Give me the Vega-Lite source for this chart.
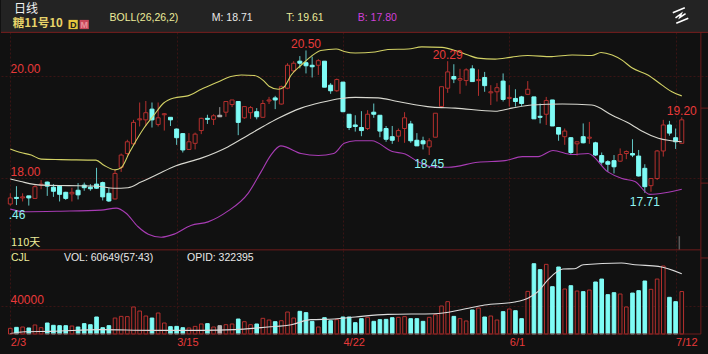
{"$schema":"https://vega.github.io/schema/vega-lite/v6.json","padding":{"left":0,"top":0,"right":0,"bottom":7},"background":"#111111","spacing":0,"bounds":"flush",
"config":{"view":{"stroke":null},"text":{"font":"Liberation Sans"},"axis":{"labelFont":"Liberation Sans"},"concat":{"spacing":0}},
"datasets":{
"candles":[
{"d":0,"s":"u","o":17.49,"h":17.70,"l":17.46,"c":17.61,"v":8100},{"d":1,"s":"d","o":17.62,"h":17.84,"l":17.47,"c":17.60,"v":9500},{"d":2,"s":"u","o":17.61,"h":17.70,"l":17.54,"c":17.63,"v":10000},{"d":3,"s":"d","o":17.65,"h":17.65,"l":17.46,"c":17.61,"v":8600},{"d":4,"s":"u","o":17.60,"h":17.86,"l":17.60,"c":17.83,"v":12900},{"d":5,"s":"u","o":17.86,"h":17.96,"l":17.78,"c":17.88,"v":9000},{"d":6,"s":"d","o":17.92,"h":17.93,"l":17.65,"c":17.84,"v":15700},{"d":7,"s":"d","o":17.82,"h":17.88,"l":17.63,"c":17.74,"v":12400},{"d":8,"s":"d","o":17.84,"h":17.86,"l":17.54,"c":17.68,"v":11900},{"d":9,"s":"d","o":17.72,"h":17.73,"l":17.57,"c":17.60,"v":11900},
{"d":10,"s":"u","o":17.69,"h":17.81,"l":17.54,"c":17.72,"v":11400},{"d":11,"s":"d","o":17.76,"h":17.90,"l":17.58,"c":17.67,"v":10000},{"d":12,"s":"d","o":17.86,"h":17.91,"l":17.75,"c":17.81,"v":14800},{"d":13,"s":"d","o":17.82,"h":17.88,"l":17.75,"c":17.79,"v":13300},{"d":14,"s":"d","o":17.88,"h":18.20,"l":17.79,"c":17.80,"v":24300},{"d":15,"s":"d","o":17.91,"h":17.93,"l":17.56,"c":17.63,"v":9000},{"d":16,"s":"d","o":17.70,"h":17.81,"l":17.53,"c":17.55,"v":11900},{"d":17,"s":"u","o":17.59,"h":18.16,"l":17.58,"c":18.09,"v":22800},{"d":18,"s":"u","o":18.21,"h":18.48,"l":18.12,"c":18.45,"v":25200},{"d":19,"s":"u","o":18.48,"h":18.75,"l":18.42,"c":18.71,"v":24800},
{"d":20,"s":"u","o":18.67,"h":19.14,"l":18.65,"c":19.09,"v":38600},{"d":21,"s":"u","o":19.14,"h":19.48,"l":19.01,"c":19.16,"v":32800},{"d":22,"s":"u","o":19.14,"h":19.51,"l":19.02,"c":19.28,"v":25700},{"d":23,"s":"d","o":19.35,"h":19.48,"l":18.99,"c":19.14,"v":22800},{"d":24,"s":"u","o":19.05,"h":19.48,"l":19.01,"c":19.18,"v":30000},{"d":25,"s":"u","o":19.24,"h":19.27,"l":18.93,"c":19.26,"v":15700},{"d":26,"s":"d","o":19.19,"h":19.19,"l":19.02,"c":19.14,"v":10500},{"d":27,"s":"d","o":18.96,"h":18.97,"l":18.65,"c":18.79,"v":10900},{"d":28,"s":"d","o":18.87,"h":18.88,"l":18.50,"c":18.55,"v":9000},{"d":29,"s":"u","o":18.56,"h":18.88,"l":18.55,"c":18.71,"v":8600},
{"d":30,"s":"u","o":18.68,"h":18.89,"l":18.56,"c":18.86,"v":10900},{"d":31,"s":"u","o":18.93,"h":19.18,"l":18.86,"c":19.17,"v":14300},{"d":32,"s":"d","o":19.17,"h":19.24,"l":19.06,"c":19.15,"v":14800},{"d":33,"s":"u","o":19.15,"h":19.25,"l":19.04,"c":19.22,"v":10000},{"d":34,"s":"f","o":19.23,"h":19.39,"l":19.20,"c":19.20,"v":11900},{"d":35,"s":"u","o":19.29,"h":19.51,"l":19.20,"c":19.50,"v":13300},{"d":36,"s":"u","o":19.44,"h":19.53,"l":19.39,"c":19.53,"v":14300},{"d":37,"s":"d","o":19.50,"h":19.50,"l":18.84,"c":19.09,"v":21400},{"d":38,"s":"u","o":19.18,"h":19.41,"l":19.16,"c":19.40,"v":17600},{"d":39,"s":"u","o":19.28,"h":19.41,"l":19.16,"c":19.38,"v":13300},
{"d":40,"s":"d","o":19.30,"h":19.37,"l":19.15,"c":19.20,"v":14300},{"d":41,"s":"u","o":19.19,"h":19.53,"l":19.19,"c":19.46,"v":22400},{"d":42,"s":"u","o":19.51,"h":19.59,"l":19.45,"c":19.53,"v":20000},{"d":43,"s":"d","o":19.57,"h":19.61,"l":19.35,"c":19.53,"v":17600},{"d":44,"s":"u","o":19.45,"h":19.81,"l":19.44,"c":19.79,"v":19000},{"d":45,"s":"u","o":19.76,"h":20.25,"l":19.74,"c":20.21,"v":31400},{"d":46,"s":"u","o":20.10,"h":20.29,"l":20.06,"c":20.25,"v":22800},{"d":47,"s":"d","o":20.29,"h":20.39,"l":20.15,"c":20.25,"v":32400},{"d":48,"s":"d","o":20.26,"h":20.50,"l":20.05,"c":20.20,"v":30500},{"d":49,"s":"d","o":20.21,"h":20.38,"l":19.97,"c":20.18,"v":18100},
{"d":50,"s":"u","o":20.21,"h":20.33,"l":20.02,"c":20.30,"v":10000},{"d":51,"s":"d","o":20.29,"h":20.29,"l":19.78,"c":19.78,"v":23300},{"d":52,"s":"d","o":19.82,"h":19.86,"l":19.65,"c":19.71,"v":19000},{"d":53,"s":"u","o":19.71,"h":19.95,"l":19.69,"c":19.93,"v":20500},{"d":54,"s":"d","o":19.88,"h":19.88,"l":19.29,"c":19.30,"v":24300},{"d":55,"s":"d","o":19.25,"h":19.25,"l":18.94,"c":18.99,"v":24300},{"d":56,"s":"d","o":19.04,"h":19.23,"l":18.91,"c":19.01,"v":16200},{"d":57,"s":"d","o":18.99,"h":19.31,"l":18.82,"c":18.93,"v":21900},{"d":58,"s":"u","o":18.97,"h":19.33,"l":18.94,"c":19.25,"v":23800},{"d":59,"s":"d","o":19.29,"h":19.46,"l":19.18,"c":19.25,"v":18100},
{"d":60,"s":"d","o":19.23,"h":19.23,"l":18.80,"c":18.92,"v":20500},{"d":61,"s":"d","o":18.97,"h":19.02,"l":18.71,"c":18.76,"v":20900},{"d":62,"s":"d","o":18.81,"h":19.02,"l":18.67,"c":18.74,"v":23300},{"d":63,"s":"u","o":18.82,"h":18.97,"l":18.71,"c":18.93,"v":23800},{"d":64,"s":"u","o":18.97,"h":19.29,"l":18.69,"c":19.18,"v":24800},{"d":65,"s":"d","o":19.06,"h":19.12,"l":18.69,"c":18.73,"v":21900},{"d":66,"s":"d","o":18.74,"h":18.88,"l":18.63,"c":18.63,"v":21900},{"d":67,"s":"d","o":18.73,"h":18.81,"l":18.56,"c":18.67,"v":18100},{"d":68,"s":"u","o":18.61,"h":18.78,"l":18.45,"c":18.73,"v":23800},{"d":69,"s":"u","o":18.80,"h":19.27,"l":18.80,"c":19.27,"v":27600},
{"d":70,"s":"u","o":19.40,"h":19.79,"l":19.39,"c":19.79,"v":40000},{"d":71,"s":"u","o":19.76,"h":20.29,"l":19.67,"c":20.08,"v":46200},{"d":72,"s":"d","o":19.99,"h":20.23,"l":19.86,"c":19.94,"v":25200},{"d":73,"s":"u","o":19.92,"h":20.14,"l":19.65,"c":19.95,"v":21900},{"d":74,"s":"u","o":19.91,"h":20.15,"l":19.81,"c":20.12,"v":18600},{"d":75,"s":"d","o":20.14,"h":20.21,"l":19.89,"c":19.89,"v":34300},{"d":76,"s":"u","o":19.91,"h":20.13,"l":19.61,"c":19.93,"v":37100},{"d":77,"s":"d","o":19.97,"h":20.08,"l":19.69,"c":19.81,"v":24300},{"d":78,"s":"u","o":19.67,"h":19.82,"l":19.43,"c":19.69,"v":25700},{"d":79,"s":"u","o":19.69,"h":19.86,"l":19.50,"c":19.77,"v":20000},
{"d":80,"s":"d","o":19.90,"h":20.05,"l":19.50,"c":19.54,"v":31900},{"d":81,"s":"u","o":19.56,"h":19.82,"l":19.40,"c":19.58,"v":35700},{"d":82,"s":"d","o":19.56,"h":19.74,"l":19.40,"c":19.50,"v":33300},{"d":83,"s":"d","o":19.59,"h":19.61,"l":19.41,"c":19.46,"v":21900},{"d":84,"s":"u","o":19.64,"h":19.90,"l":19.63,"c":19.74,"v":60900},{"d":85,"s":"d","o":19.59,"h":19.59,"l":19.16,"c":19.16,"v":100400},{"d":86,"s":"d","o":19.21,"h":19.46,"l":19.07,"c":19.19,"v":91900},{"d":87,"s":"u","o":19.25,"h":19.59,"l":19.04,"c":19.52,"v":99500},{"d":88,"s":"d","o":19.53,"h":19.53,"l":19.02,"c":19.02,"v":67600},{"d":89,"s":"d","o":18.99,"h":19.00,"l":18.73,"c":18.86,"v":95700},
{"d":90,"s":"u","o":18.81,"h":18.97,"l":18.65,"c":18.92,"v":64300},{"d":91,"s":"d","o":18.79,"h":18.80,"l":18.45,"c":18.50,"v":69000},{"d":92,"s":"u","o":18.67,"h":18.71,"l":18.44,"c":18.71,"v":61400},{"d":93,"s":"d","o":18.81,"h":19.07,"l":18.68,"c":18.69,"v":60500},{"d":94,"s":"u","o":18.78,"h":19.10,"l":18.67,"c":18.80,"v":62800},{"d":95,"s":"d","o":18.69,"h":18.71,"l":18.43,"c":18.45,"v":74300},{"d":96,"s":"d","o":18.44,"h":18.50,"l":18.26,"c":18.31,"v":78500},{"d":97,"s":"d","o":18.32,"h":18.35,"l":18.12,"c":18.27,"v":56200},{"d":98,"s":"d","o":18.34,"h":18.45,"l":18.09,"c":18.22,"v":59000},{"d":99,"s":"u","o":18.33,"h":18.58,"l":18.32,"c":18.46,"v":57100},
{"d":100,"s":"u","o":18.48,"h":18.54,"l":18.37,"c":18.52,"v":38600},{"d":101,"s":"d","o":18.48,"h":18.76,"l":18.41,"c":18.45,"v":58500},{"d":102,"s":"d","o":18.43,"h":18.55,"l":18.03,"c":18.04,"v":61900},{"d":103,"s":"d","o":18.19,"h":18.27,"l":17.71,"c":17.83,"v":75700},{"d":104,"s":"u","o":17.85,"h":17.99,"l":17.73,"c":17.99,"v":63800},{"d":105,"s":"u","o":17.99,"h":18.55,"l":17.96,"c":18.53,"v":78500},{"d":106,"s":"u","o":18.53,"h":19.14,"l":18.42,"c":19.04,"v":97100},{"d":107,"s":"d","o":19.04,"h":19.12,"l":18.83,"c":18.88,"v":52400},{"d":108,"s":"d","o":18.79,"h":18.97,"l":18.57,"c":18.71,"v":46200},{"d":109,"s":"u","o":18.68,"h":19.19,"l":18.68,"c":19.14,"v":60649}
],
"bands":[
{"b":"T","d":0,"p":18.57},{"b":"T","d":1.7,"p":18.50},{"b":"T","d":3.4,"p":18.45},{"b":"T","d":5,"p":18.37},{"b":"T","d":8.2,"p":18.36},{"b":"T","d":13.9,"p":18.35},{"b":"T","d":15.2,"p":18.25},{"b":"T","d":17,"p":18.16},{"b":"T","d":18,"p":18.20},{"b":"T","d":19.3,"p":18.49},{"b":"T","d":20.7,"p":18.79},{"b":"T","d":21.7,"p":18.98},{"b":"T","d":23.3,"p":19.23},{"b":"T","d":24.9,"p":19.47},{"b":"T","d":26.6,"p":19.57},{"b":"T","d":28.8,"p":19.61},{"b":"T","d":31,"p":19.74},{"b":"T","d":33.7,"p":19.88},{"b":"T","d":35.8,"p":19.99},{"b":"T","d":37.5,"p":20.02},{"b":"T","d":39.6,"p":20.01},{"b":"T","d":41,"p":19.92},{"b":"T","d":42,"p":19.80},{"b":"T","d":43.5,"p":19.74},{"b":"T","d":44.4,"p":19.78},{"b":"T","d":45.6,"p":20.02},{"b":"T","d":47.2,"p":20.21},{"b":"T","d":48.8,"p":20.38},{"b":"T","d":50.4,"p":20.50},{"b":"T","d":52.9,"p":20.53},{"b":"T","d":54.2,"p":20.48},{"b":"T","d":56,"p":20.45},{"b":"T","d":59.2,"p":20.47},{"b":"T","d":61.3,"p":20.52},{"b":"T","d":64.6,"p":20.53},{"b":"T","d":66.8,"p":20.57},{"b":"T","d":70.1,"p":20.56},{"b":"T","d":72.2,"p":20.50},{"b":"T","d":74.3,"p":20.41},{"b":"T","d":75.9,"p":20.35},{"b":"T","d":78.7,"p":20.33},{"b":"T","d":81.4,"p":20.37},{"b":"T","d":84,"p":20.40},{"b":"T","d":87.9,"p":20.38},{"b":"T","d":91.2,"p":20.41},{"b":"T","d":94.4,"p":20.40},{"b":"T","d":95.9,"p":20.46},{"b":"T","d":97.7,"p":20.41},{"b":"T","d":99.3,"p":20.31},{"b":"T","d":100.9,"p":20.16},{"b":"T","d":103.5,"p":20.02},{"b":"T","d":105.8,"p":19.82},{"b":"T","d":107.4,"p":19.69},{"b":"T","d":109,"p":19.61},
{"b":"M","d":0,"p":17.98},{"b":"M","d":1.7,"p":17.93},{"b":"M","d":5,"p":17.86},{"b":"M","d":9.4,"p":17.85},{"b":"M","d":14.2,"p":17.84},{"b":"M","d":16.8,"p":17.80},{"b":"M","d":19.1,"p":17.81},{"b":"M","d":21.2,"p":17.92},{"b":"M","d":24,"p":18.08},{"b":"M","d":26.9,"p":18.24},{"b":"M","d":31,"p":18.39},{"b":"M","d":35.3,"p":18.61},{"b":"M","d":38.6,"p":18.84},{"b":"M","d":41.2,"p":19.02},{"b":"M","d":43.5,"p":19.17},{"b":"M","d":47.2,"p":19.37},{"b":"M","d":50.4,"p":19.48},{"b":"M","d":53.7,"p":19.56},{"b":"M","d":56,"p":19.58},{"b":"M","d":59.7,"p":19.57},{"b":"M","d":62.9,"p":19.50},{"b":"M","d":68.5,"p":19.39},{"b":"M","d":72.2,"p":19.37},{"b":"M","d":78.7,"p":19.31},{"b":"M","d":81.4,"p":19.37},{"b":"M","d":84.7,"p":19.43},{"b":"M","d":89.6,"p":19.45},{"b":"M","d":94.4,"p":19.43},{"b":"M","d":97.7,"p":19.23},{"b":"M","d":100.9,"p":19.04},{"b":"M","d":102.5,"p":18.92},{"b":"M","d":105.2,"p":18.78},{"b":"M","d":109,"p":18.71},
{"b":"B","d":0,"p":17.39},{"b":"B","d":2.2,"p":17.34},{"b":"B","d":8.2,"p":17.35},{"b":"B","d":14.7,"p":17.37},{"b":"B","d":17.2,"p":17.41},{"b":"B","d":18.8,"p":17.31},{"b":"B","d":20.7,"p":17.05},{"b":"B","d":22.4,"p":16.90},{"b":"B","d":24.5,"p":16.84},{"b":"B","d":26.6,"p":16.90},{"b":"B","d":29.3,"p":17.07},{"b":"B","d":32.1,"p":17.14},{"b":"B","d":35.3,"p":17.35},{"b":"B","d":38.6,"p":17.70},{"b":"B","d":40.7,"p":18.12},{"b":"B","d":42.3,"p":18.45},{"b":"B","d":43.9,"p":18.63},{"b":"B","d":47.2,"p":18.48},{"b":"B","d":50,"p":18.44},{"b":"B","d":52.5,"p":18.48},{"b":"B","d":54.2,"p":18.68},{"b":"B","d":56,"p":18.73},{"b":"B","d":58.7,"p":18.73},{"b":"B","d":62,"p":18.52},{"b":"B","d":64.1,"p":18.47},{"b":"B","d":66.2,"p":18.32},{"b":"B","d":68.5,"p":18.22},{"b":"B","d":71.1,"p":18.21},{"b":"B","d":75.9,"p":18.31},{"b":"B","d":80.3,"p":18.34},{"b":"B","d":83.1,"p":18.42},{"b":"B","d":85.7,"p":18.42},{"b":"B","d":88.1,"p":18.54},{"b":"B","d":91.2,"p":18.46},{"b":"B","d":93.8,"p":18.48},{"b":"B","d":97,"p":18.12},{"b":"B","d":99.3,"p":17.99},{"b":"B","d":101.4,"p":17.93},{"b":"B","d":103.8,"p":17.68},{"b":"B","d":106.3,"p":17.71},{"b":"B","d":109,"p":17.78}
],
"volma":[{"d":0,"v":500},{"d":2.3,"v":3300},{"d":6.6,"v":3800},{"d":14.7,"v":6200},{"d":22.8,"v":5200},{"d":31,"v":5200},{"d":36.4,"v":6200},{"d":41.8,"v":10000},{"d":45.6,"v":13300},{"d":48.8,"v":20500},{"d":52.6,"v":21400},{"d":56,"v":24300},{"d":61.3,"v":28100},{"d":68.9,"v":29000},{"d":73.2,"v":34700},{"d":77,"v":41400},{"d":81.9,"v":45700},{"d":84.1,"v":51400},{"d":85.7,"v":60900},{"d":87.3,"v":77600},{"d":89.7,"v":92800},{"d":91.6,"v":93300},{"d":93,"v":99000},{"d":99.2,"v":101400},{"d":101.4,"v":99000},{"d":105.2,"v":96600},{"d":109,"v":86200}],
"peaks":[{"d":48,"p":20.50,"label":"20.50"},{"d":71,"p":20.29,"label":"20.29"},{"d":109,"p":19.20,"label":"19.20"}],
"troughs":[{"d":1.1,"p":17.46,"label":".46"},{"d":68,"p":18.45,"label":"18.45"},{"d":103,"p":17.71,"label":"17.71"}]
},
"vconcat":[
{"width":708,"height":32,"view":{"fill":"#232323","stroke":null},
"layer":[
{"data":{"values":[{"t":"日线"}]},"mark":{"type":"text","align":"left","font":"Noto Sans CJK SC","fontSize":12,"color":"#f2f2f2"},"encoding":{"x":{"datum":0.6,"type":"quantitative","scale":{"domain":[-1.51,113.42],"nice":false,"zero":false},"axis":null},"y":{"datum":8.5,"type":"quantitative","scale":{"domain":[32,0],"nice":false,"zero":false},"axis":null},"text":{"field":"t"}}},
{"data":{"values":[{"t":"糖11号10"}]},"mark":{"type":"text","align":"left","font":"Noto Sans CJK SC","fontSize":11.5,"fontWeight":"bold","color":"#e8d46a"},"encoding":{"x":{"datum":0.4,"type":"quantitative","axis":null},"y":{"datum":24,"type":"quantitative","axis":null},"text":{"field":"t"}}},
{"data":{"values":[{"t":"D"}]},"mark":{"type":"point","shape":"square","filled":true,"size":85,"color":"#e8c93c","opacity":1},"encoding":{"x":{"datum":10.2,"type":"quantitative","axis":null},"y":{"datum":24.5,"type":"quantitative","axis":null}}},
{"data":{"values":[{"t":"M"}]},"mark":{"type":"point","shape":"square","filled":true,"size":85,"color":"#c9485a","opacity":1},"encoding":{"x":{"datum":12,"type":"quantitative","axis":null},"y":{"datum":24.5,"type":"quantitative","axis":null}}},
{"data":{"values":[{"t":"D"}]},"mark":{"type":"text","fontSize":9,"fontWeight":"bold","color":"#222222"},"encoding":{"x":{"datum":10.2,"type":"quantitative","axis":null},"y":{"datum":24.5,"type":"quantitative","axis":null},"text":{"field":"t"}}},
{"data":{"values":[{"t":"M"}]},"mark":{"type":"text","fontSize":9,"fontWeight":"bold","color":"#e8909a"},"encoding":{"x":{"datum":12,"type":"quantitative","axis":null},"y":{"datum":24.5,"type":"quantitative","axis":null},"text":{"field":"t"}}},
{"data":{"values":[{"t":"BOLL(26,26,2)"}]},"mark":{"type":"text","align":"left","fontSize":10.5,"color":"#ecec9a"},"encoding":{"x":{"datum":16.1,"type":"quantitative","axis":null},"y":{"datum":17.5,"type":"quantitative","axis":null},"text":{"field":"t"}}},
{"data":{"values":[{"t":"M: 18.71"}]},"mark":{"type":"text","align":"left","fontSize":10.5,"color":"#e8e8e8"},"encoding":{"x":{"datum":32.7,"type":"quantitative","axis":null},"y":{"datum":17.5,"type":"quantitative","axis":null},"text":{"field":"t"}}},
{"data":{"values":[{"t":"T: 19.61"}]},"mark":{"type":"text","align":"left","fontSize":10.5,"color":"#ecec9a"},"encoding":{"x":{"datum":44.8,"type":"quantitative","axis":null},"y":{"datum":17.5,"type":"quantitative","axis":null},"text":{"field":"t"}}},
{"data":{"values":[{"t":"B: 17.80"}]},"mark":{"type":"text","align":"left","fontSize":10.5,"color":"#d040d8"},"encoding":{"x":{"datum":56.4,"type":"quantitative","axis":null},"y":{"datum":17.5,"type":"quantitative","axis":null},"text":{"field":"t"}}},
{"data":{"values":[{"t":"icon"}]},"mark":{"type":"point","shape":"M-1 -0.35 L0.55 -1 M-0.55 1 L1 0.35 M-0.65 0.3 L0.1 -0.25 L-0.1 0.25 L0.65 -0.25","size":240,"stroke":"#ffffff","strokeWidth":1.5,"opacity":1,"fill":null},"encoding":{"x":{"datum":108.8,"type":"quantitative","axis":null},"y":{"datum":15.5,"type":"quantitative","axis":null}}}
]},
{"width":708,"height":218,"resolve":{"scale":{"color":"independent"}},
"layer":[
{"data":{"name":"candles"},"mark":{"type":"rule","strokeWidth":1},"encoding":{"x":{"field":"d","type":"quantitative","scale":{"domain":[-1.51,113.42],"nice":false,"zero":false,"padding":0},"axis":{"values":[0,27,54,81,108],"grid":true,"gridColor":"#3a1414","gridDash":[2,2],"gridWidth":1,"labels":false,"ticks":false,"domain":false,"title":null}},"y":{"field":"h","type":"quantitative","scale":{"domain":[16.589,20.862],"nice":false,"zero":false},"axis":{"values":[18,20],"grid":true,"gridColor":"#3a1414","gridDash":[2,2],"labelExpr":"format(datum.value,'.2f')","labelAlign":"left","labelBaseline":"bottom","labelPadding":-9,"labelFontSize":12,"labelColor":"#e83a3a","ticks":false,"domain":false,"title":null}},"y2":{"field":"l"},"color":{"field":"s","type":"nominal","scale":{"domain":["u","d","f"],"range":["#b5302e","#63c7c6","#9a9a9a"]},"legend":null}}},
{"data":{"name":"candles"},"mark":{"type":"bar","size":4,"strokeWidth":1},"encoding":{"x":{"field":"d","type":"quantitative"},"y":{"field":"o","type":"quantitative"},"y2":{"field":"c"},"fill":{"field":"s","type":"nominal","scale":{"domain":["u","d","f"],"range":["#111111","#7ffcf6","#b8b8b8"]},"legend":null},"stroke":{"field":"s","type":"nominal","scale":{"domain":["u","d","f"],"range":["#b5302e","#7ffcf6","#b8b8b8"]},"legend":null}}},
{"data":{"name":"bands"},"mark":{"type":"line","strokeWidth":1.1,"interpolate":"monotone"},"encoding":{"x":{"field":"d","type":"quantitative"},"y":{"field":"p","type":"quantitative"},"color":{"field":"b","type":"nominal","scale":{"domain":["T","M","B"],"range":["#d2d165","#d8d8d0","#a83cb4"]},"legend":null}}},
{"data":{"name":"peaks"},"mark":{"type":"text","fontSize":12,"color":"#e83a3a","dy":-6},"encoding":{"x":{"field":"d","type":"quantitative"},"y":{"field":"p","type":"quantitative"},"text":{"field":"label"}}},
{"data":{"name":"troughs"},"mark":{"type":"text","fontSize":12,"color":"#8ff5f2","dy":9},"encoding":{"x":{"field":"d","type":"quantitative"},"y":{"field":"p","type":"quantitative"},"text":{"field":"label"}}},
{"data":{"values":[{"t":"110天"}]},"mark":{"type":"text","align":"left","font":"Noto Sans CJK SC","fontSize":11,"color":"#ecec9a"},"encoding":{"x":{"datum":0.1,"type":"quantitative"},"y":{"datum":16.73,"type":"quantitative"},"text":{"field":"t"}}},
{"data":{"values":[{"t":"last"}]},"mark":{"type":"rule","strokeWidth":1.5,"color":"#5a5a5a"},"encoding":{"x":{"datum":108.6,"type":"quantitative"},"y":{"datum":16.86,"type":"quantitative"},"y2":{"datum":16.589}}},
{"data":{"values":[{"t":"r"}]},"mark":{"type":"rule","strokeWidth":1,"color":"#6e1c1c"},"encoding":{"x":{"datum":112.1,"type":"quantitative"},"y":{"datum":20.862,"type":"quantitative"},"y2":{"datum":16.589}}},
{"data":{"values":[{"t":"top"}]},"mark":{"type":"rule","strokeWidth":1,"color":"#7a1f1f"},"encoding":{"x":{"datum":-1.51,"type":"quantitative"},"x2":{"datum":113.42},"y":{"datum":20.855,"type":"quantitative"}}},
{"data":{"values":[{"t":"bottom"}]},"mark":{"type":"rule","strokeWidth":1,"color":"#6e1c1c"},"encoding":{"x":{"datum":0,"type":"quantitative"},"x2":{"datum":112.1},"y":{"datum":16.592,"type":"quantitative"}}},
{"data":{"values":[{"p":19.37},{"p":17.90}]},"mark":{"type":"rule","strokeWidth":1,"color":"#6e1c1c"},"encoding":{"x":{"datum":112.1,"type":"quantitative"},"x2":{"datum":113.42},"y":{"field":"p","type":"quantitative"}}}
]},
{"width":708,"height":84,
"layer":[
{"data":{"name":"candles"},"mark":{"type":"bar","size":3.6,"strokeWidth":1},"encoding":{"x":{"field":"d","type":"quantitative","scale":{"domain":[-1.51,113.42],"nice":false,"zero":false,"padding":0},"axis":{"values":[0,27,54,81,108],"grid":true,"gridColor":"#3a1414","gridDash":[2,2],"labelExpr":"datum.value==0?'2/3':datum.value==27?'3/15':datum.value==54?'4/22':datum.value==81?'6/1':'7/12'","labelAlign":"left","labelPadding":2,"labelFontSize":11,"labelColor":"#e83a3a","labelFlush":false,"ticks":false,"domain":false,"title":null}},"y":{"field":"v","type":"quantitative","scale":{"domain":[0,120000],"nice":false},"axis":{"values":[40000],"grid":true,"gridColor":"#3a1414","gridDash":[2,2],"labelExpr":"format(datum.value,'d')","labelAlign":"left","labelBaseline":"bottom","labelPadding":-9,"labelFontSize":12,"labelColor":"#e83a3a","ticks":false,"domain":false,"title":null}},"fill":{"field":"s","type":"nominal","scale":{"domain":["u","d","f"],"range":["#111111","#7ffcf6","#111111"]},"legend":null},"stroke":{"field":"s","type":"nominal","scale":{"domain":["u","d","f"],"range":["#a52a2a","#7ffcf6","#a52a2a"]},"legend":null}}},
{"data":{"name":"volma"},"mark":{"type":"line","strokeWidth":1.1,"color":"#dcdcdc","interpolate":"monotone"},"encoding":{"x":{"field":"d","type":"quantitative"},"y":{"field":"v","type":"quantitative"}}},
{"data":{"values":[{"t":"CJL"}]},"mark":{"type":"text","align":"left","fontSize":10.5,"color":"#ecec9a"},"encoding":{"x":{"datum":0.1,"type":"quantitative"},"y":{"datum":108600,"type":"quantitative"},"text":{"field":"t"}}},
{"data":{"values":[{"t":"VOL: 60649(57:43)"}]},"mark":{"type":"text","align":"left","fontSize":10.5,"color":"#e8e8e8"},"encoding":{"x":{"datum":8.7,"type":"quantitative"},"y":{"datum":108600,"type":"quantitative"},"text":{"field":"t"}}},
{"data":{"values":[{"t":"OPID: 322395"}]},"mark":{"type":"text","align":"left","fontSize":10.5,"color":"#e8e8e8"},"encoding":{"x":{"datum":28.7,"type":"quantitative"},"y":{"datum":108600,"type":"quantitative"},"text":{"field":"t"}}},
{"data":{"values":[{"t":"r"}]},"mark":{"type":"rule","strokeWidth":1,"color":"#6e1c1c"},"encoding":{"x":{"datum":112.1,"type":"quantitative"},"y":{"datum":120000,"type":"quantitative"},"y2":{"datum":0}}},
{"data":{"values":[{"t":"b"}]},"mark":{"type":"rule","strokeWidth":1,"color":"#6e1c1c"},"encoding":{"x":{"datum":0,"type":"quantitative"},"x2":{"datum":112.1},"y":{"datum":0,"type":"quantitative"}}},
{"data":{"values":[{"t":"t"}]},"mark":{"type":"rule","strokeWidth":1,"color":"#6e1c1c"},"encoding":{"x":{"datum":112.1,"type":"quantitative"},"x2":{"datum":113.42},"y":{"datum":108600,"type":"quantitative"}}}
]}
]}
